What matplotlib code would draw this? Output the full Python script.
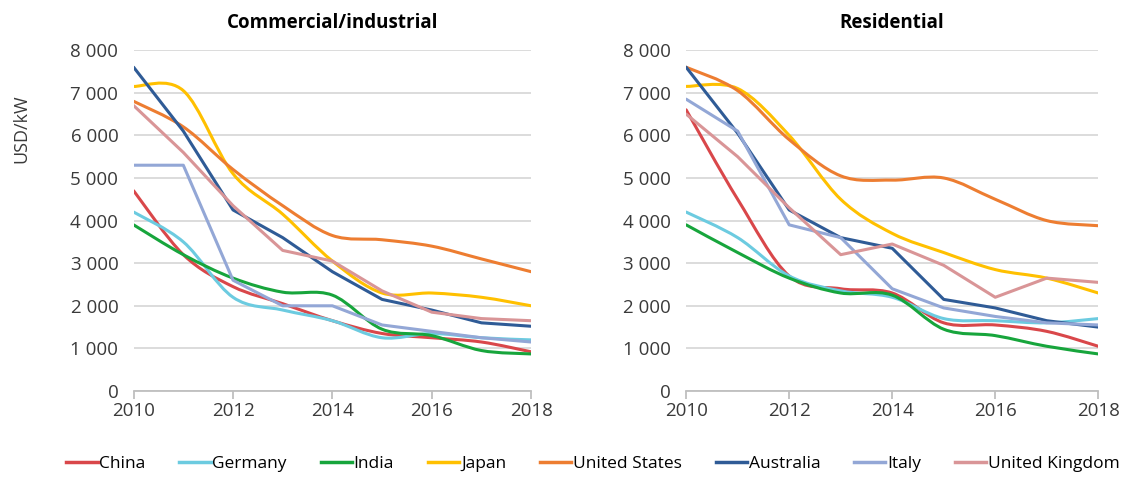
import numpy as np
import matplotlib
matplotlib.use("Agg")
import matplotlib.pyplot as plt
from matplotlib.path import Path
from matplotlib.patches import PathPatch
from matplotlib.lines import Line2D
from matplotlib.ticker import FuncFormatter

plt.rcParams['font.family'] = ['Open Sans', 'DejaVu Sans']

years = [2010, 2011, 2012, 2013, 2014, 2015, 2016, 2017, 2018]
countries = ['China', 'Germany', 'India', 'Japan', 'United States',
             'Australia', 'Italy', 'United Kingdom']
colors = ['#d9474a', '#6ccbe0', '#17a53c', '#ffc000', '#ed7d31',
          '#2f5b96', '#93a7d6', '#d99597']
# series drawn with straight segments in the source, the others are smoothed
straight = ['Australia', 'Italy', 'United Kingdom']

# Commercial/industrial, USD/kW
com_china = [4700, 3200, 2450, 2050, 1650, 1350, 1250, 1150, 920]
com_germany = [4200, 3500, 2200, 1900, 1650, 1250, 1350, 1250, 1200]
com_india = [3900, 3200, 2650, 2320, 2250, 1450, 1300, 950, 870]
com_japan = [7150, 7050, 5100, 4150, 3050, 2300, 2300, 2200, 2000]
com_us = [6800, 6200, 5200, 4350, 3650, 3550, 3400, 3100, 2800]
com_australia = [7600, 6100, 4250, 3600, 2800, 2150, 1900, 1600, 1520]
com_italy = [5300, 5300, 2600, 2000, 2000, 1550, 1400, 1250, 1150]
com_uk = [6700, 5600, 4350, 3300, 3050, 2350, 1850, 1700, 1650]

# Residential, USD/kW
res_china = [6600, 4500, 2700, 2400, 2300, 1600, 1550, 1400, 1050]
res_germany = [4200, 3600, 2700, 2350, 2200, 1700, 1650, 1600, 1700]
res_india = [3900, 3250, 2650, 2300, 2250, 1450, 1300, 1050, 870]
res_japan = [7150, 7100, 6000, 4500, 3700, 3250, 2850, 2650, 2300]
res_us = [7600, 7050, 5900, 5050, 4950, 5000, 4500, 4000, 3880]
res_australia = [7600, 6050, 4250, 3600, 3350, 2150, 1950, 1650, 1500]
res_italy = [6850, 6100, 3900, 3600, 2400, 1950, 1750, 1600, 1550]
res_uk = [6500, 5500, 4300, 3200, 3450, 2950, 2200, 2650, 2550]

commercial = [com_china, com_germany, com_india, com_japan, com_us,
              com_australia, com_italy, com_uk]
residential = [res_china, res_germany, res_india, res_japan, res_us,
               res_australia, res_italy, res_uk]


def line_path(x, y, smooth):
    x = np.asarray(x, float)
    y = np.asarray(y, float)
    verts = [(x[0], y[0])]
    codes = [Path.MOVETO]
    n = len(x)
    for i in range(n - 1):
        if smooth:
            # Bezier control points from neighbouring points (spreadsheet-style smoothing)
            p0 = (x[max(i - 1, 0)], y[max(i - 1, 0)])
            p3 = (x[min(i + 2, n - 1)], y[min(i + 2, n - 1)])
            c1 = (x[i] + (x[i + 1] - p0[0]) / 6, y[i] + (y[i + 1] - p0[1]) / 6)
            c2 = (x[i + 1] - (p3[0] - x[i]) / 6, y[i + 1] - (p3[1] - y[i]) / 6)
            verts += [c1, c2, (x[i + 1], y[i + 1])]
            codes += [Path.CURVE4] * 3
        else:
            verts.append((x[i + 1], y[i + 1]))
            codes.append(Path.LINETO)
    return Path(verts, codes)


fig = plt.figure(figsize=(11.23, 4.78), dpi=100)
ax1 = fig.add_axes([0.119, 0.182, 0.354, 0.713])
ax2 = fig.add_axes([0.611, 0.182, 0.367, 0.713])

fmt = FuncFormatter(lambda v, p: '{:,.0f}'.format(v).replace(',', ' '))

for ax, data, title in [(ax1, commercial, 'Commercial/industrial'),
                        (ax2, residential, 'Residential')]:
    for name, vals, col in zip(countries, data, colors):
        patch = PathPatch(line_path(years, vals, name not in straight),
                          facecolor='none', edgecolor=col, lw=2.2,
                          capstyle='round', joinstyle='round')
        ax.add_patch(patch)
    ax.set_xlim(2010, 2018)
    ax.set_ylim(0, 8000)
    ax.set_xticks([2010, 2012, 2014, 2016, 2018])
    ax.set_yticks(range(0, 8001, 1000))
    ax.yaxis.set_major_formatter(fmt)
    ax.grid(axis='y', color='#d9d9d9', lw=1.3)
    ax.set_axisbelow(True)
    for s in ['top', 'right', 'left']:
        ax.spines[s].set_visible(False)
    ax.spines['bottom'].set_color('#bfbfbf')
    ax.spines['bottom'].set_linewidth(1.3)
    ax.tick_params(axis='y', length=0, labelsize=13.5, colors='#3a3a3a', pad=11)
    ax.tick_params(axis='x', length=6, color='#bfbfbf', width=1.3,
                   labelsize=13.5, colors='#3a3a3a', pad=2)
    ax.set_title(title, fontsize=13.5, fontweight='bold', pad=16)

ax1.set_ylabel('USD/kW', fontsize=13, color='#3a3a3a')
ax1.yaxis.set_label_coords(-0.26, 0.77)

handles = [Line2D([], [], color=c, lw=2.5) for c in colors]
fig.legend(handles, countries, loc='center', bbox_to_anchor=(0.528, 0.03),
           ncol=8, frameon=False, handlelength=1.8,
           handletextpad=0.1, columnspacing=1.95,
           prop={'size': 12.5})

fig.savefig('out.png', dpi=100)
